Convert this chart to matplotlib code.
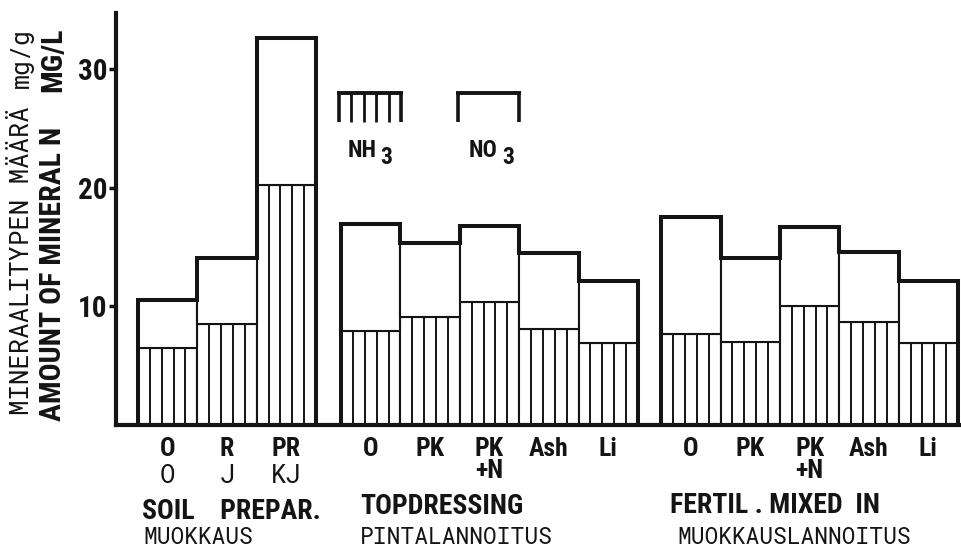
import matplotlib
matplotlib.use('Agg')
import matplotlib.pyplot as plt
import matplotlib.transforms as mtransforms
import numpy as np

# ---------------- data ----------------
soil_cats = ['O', 'R', 'PR']
soil_cats_fi = ['O', 'J', 'KJ']
soil_nh3 = [6.5, 8.5, 20.2]
soil_no3 = [4.0, 5.55, 12.4]

top_cats = ['O', 'PK', 'PK\n+N', 'Ash', 'Li']
top_nh3 = [7.9, 9.1, 10.4, 8.1, 6.9]
top_no3 = [9.0, 6.2, 6.4, 6.35, 5.2]

mix_cats = ['O', 'PK', 'PK\n+N', 'Ash', 'Li']
mix_nh3 = [7.7, 7.0, 10.0, 8.7, 6.9]
mix_no3 = [9.8, 7.1, 6.7, 5.9, 5.2]

group_names = ['SOIL    PREPAR.', 'TOPDRESSING', 'FERTIL . MIXED  IN']
group_names_fi = ['MUOKKAUS', 'PINTALANNOITUS', 'MUOKKAUSLANNOITUS']
yticks = [10, 20, 30]

# ---------------- layout ----------------
W, H = 961, 549
INK = '#141414'
group_starts = [0.0, 3.42, 8.81]
groups = [
    (soil_cats, soil_nh3, soil_no3),
    (top_cats, top_nh3, top_no3),
    (mix_cats, mix_nh3, mix_no3),
]

BOLD = dict(family=['Roboto Condensed', 'DejaVu Sans'], weight='bold', color=INK)
THIN = dict(family=['Roboto Mono', 'DejaVu Sans Mono'], color=INK)

fig = plt.figure(figsize=(W / 100, H / 100), dpi=100)
fig.patch.set_facecolor('white')
ax = fig.add_axes([116 / W, 124 / H, (W - 116) / W, (425 - 13) / H])
ax.set_xlim(-0.37, 13.86)
ax.set_ylim(0, 34.7)

for start, (cats, nh3, no3) in zip(group_starts, groups):
    n = len(cats)
    lefts = start + np.arange(n)
    nh3 = np.asarray(nh3)
    no3 = np.asarray(no3)
    tot = nh3 + no3
    ax.bar(lefts, nh3, width=1, align='edge', facecolor='white',
           edgecolor=INK, linewidth=1.5, zorder=2)
    ax.bar(lefts, no3, bottom=nh3, width=1, align='edge', facecolor='white',
           edgecolor=INK, linewidth=1.5, zorder=2)
    # vertical hatch lines in NH3 part
    for l, h in zip(lefts, nh3):
        ax.vlines(l + np.arange(1, 5) / 5.0, 0, h, color=INK, linewidth=1.4, zorder=3)
    # thick stepped outline
    xs = [lefts[0]]
    ys = [0]
    for l, t in zip(lefts, tot):
        xs += [l, l + 1]
        ys += [t, t]
    xs.append(lefts[-1] + 1)
    ys.append(0)
    ax.plot(xs, ys, color=INK, linewidth=2.9, solid_joinstyle='miter',
            solid_capstyle='butt', zorder=4, clip_on=False)

# axes styling
for s in ['top', 'right']:
    ax.spines[s].set_visible(False)
for s in ['left', 'bottom']:
    ax.spines[s].set_linewidth(3)
    ax.spines[s].set_color(INK)
    ax.spines[s].set_zorder(5)
ax.set_xticks([])
ax.set_yticks(yticks)
ax.set_yticklabels([str(v) for v in yticks])
ax.tick_params(axis='y', direction='out', length=5, width=2.5, pad=1, colors=INK)
for lab in ax.get_yticklabels():
    lab.set_fontfamily(BOLD['family'])
    lab.set_fontweight('bold')
    lab.set_fontsize(21)

# category labels
trans = mtransforms.blended_transform_factory(ax.transData, fig.transFigure)
def fy(ypx):
    return 1 - ypx / H

for gi, (start, (cats, nh3, no3)) in enumerate(zip(group_starts, groups)):
    centers = start + np.arange(len(cats)) + 0.5
    for c, lab in zip(centers, cats):
        parts = lab.split('\n')
        ax.text(c, fy(456), parts[0], transform=trans, ha='center', va='baseline',
                fontsize=18.5, **BOLD)
        if len(parts) > 1:
            ax.text(c, fy(478), parts[1], transform=trans, ha='center', va='baseline',
                    fontsize=18.5, **BOLD)
    if gi == 0:
        for c, lab in zip(centers, soil_cats_fi):
            ax.text(c, fy(483), lab, transform=trans, ha='center', va='baseline',
                    fontsize=18.5, **THIN)

# group labels
name_x = [142, 360, 670]
name_y = [519, 514, 513]
fi_x = [143, 360, 677]
for nm, fnm, x, y, xf in zip(group_names, group_names_fi, name_x, name_y, fi_x):
    fig.text(x / W, fy(y), nm, ha='left', va='baseline', fontsize=20, **BOLD)
    fig.text(xf / W, fy(544), fnm, ha='left', va='baseline', fontsize=16.5, **THIN)

# y labels
fig.text(22 / W, fy(415), 'MINERAALITYPEN MÄÄRÄ', rotation=90,
         ha='center', va='bottom', fontsize=18.5, **THIN)
fig.text(22 / W, fy(28), 'mg/g', rotation=90,
         ha='center', va='top', fontsize=18, **THIN)
fig.text(53 / W, fy(421), 'AMOUNT OF MINERAL N', rotation=90,
         ha='center', va='bottom', fontsize=21.5, **BOLD)
fig.text(53 / W, fy(28), 'MG/L', rotation=90,
         ha='center', va='top', fontsize=21.5, **BOLD)

# legend glyphs
def line_px(x0, y0, x1, y1, lw):
    fig.add_artist(plt.Line2D([x0 / W, x1 / W], [fy(y0), fy(y1)], color=INK,
                              linewidth=lw, solid_capstyle='butt',
                              transform=fig.transFigure))

# NH3 symbol
line_px(337, 93, 403, 93, 2.8)
legs = np.linspace(339, 401, 6)
for i, x in enumerate(legs):
    line_px(x, 93, x, 122, 2.6 if i in (0, len(legs) - 1) else 2.0)
# NO3 symbol
line_px(456, 93, 521, 93, 2.8)
line_px(458, 93, 458, 122, 2.6)
line_px(519, 93, 519, 122, 2.6)

fig.text(362 / W, fy(150), 'NH', ha='center', va='center', fontsize=17, **BOLD)
fig.text(386 / W, fy(157), '3', ha='center', va='center', fontsize=17, **BOLD)
fig.text(483 / W, fy(150), 'NO', ha='center', va='center', fontsize=17, **BOLD)
fig.text(508 / W, fy(157), '3', ha='center', va='center', fontsize=17, **BOLD)

fig.savefig('out.png', dpi=100, facecolor='white')
